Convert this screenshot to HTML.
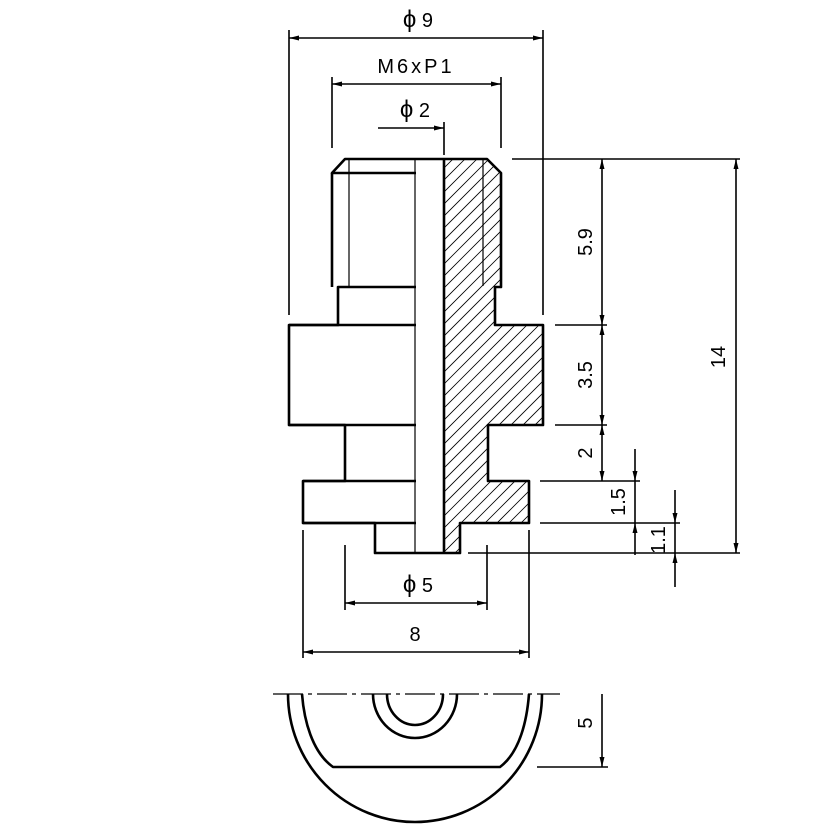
<!DOCTYPE html>
<html><head><style>html,body{margin:0;padding:0;background:#fff}svg{display:block}</style></head><body>
<svg width="835" height="835" viewBox="0 0 835 835" xmlns="http://www.w3.org/2000/svg" font-family="Liberation Sans, DejaVu Sans, sans-serif">
<defs>
<marker id="a" viewBox="0 0 10 6" refX="10" refY="3" markerWidth="10" markerHeight="6" markerUnits="userSpaceOnUse" orient="auto-start-reverse"><path d="M0,0.5 L10,3 L0,5.5z" fill="#000"/></marker>
<clipPath id="hc"><path d="M444,159 H487 L501,173 V287 H495 V325 H543 V425 H488 V481 H529 V523 H460 V553 H444z"/></clipPath>
</defs>
<g clip-path="url(#hc)" stroke="#000" stroke-width="0.8">
<g id="hl">
<path d="M400,200 L560,40 M400,212 L560,52 M400,224 L560,64 M400,236 L560,76 M400,248 L560,88 M400,260 L560,100 M400,272 L560,112 M400,284 L560,124 M400,296 L560,136 M400,308 L560,148 M400,320 L560,160 M400,332 L560,172"/>
</g>
<use href="#hl" y="144"/><use href="#hl" y="288"/><use href="#hl" y="432"/>
</g>
<g fill="none" stroke="#000" stroke-width="2.6" stroke-linejoin="round">
<path d="M416,173 H332 L345,159 H487 L501,173 V287 H495 V325 H543 V425 H488 V481 H529 V523 H460 V553 H375 V523 H303 V481 H345 V425 H289 V325 H338 V287 H416"/>
<path d="M444,159 V553"/>
<path d="M332,173 V287"/>
<path d="M289,425 H416 M303,523 H416 M303,481 H416 M289,325 H416"/>
<path d="M288,694 A127,128 0 0 0 542,694"/>
<path d="M302,694 C304,720 312,752 333,767 H500 C520,752 527,720 529,694"/>
<path d="M373,694 A42,44 0 0 0 457,694"/>
<path d="M387,694 A28,31 0 0 0 443,694"/>
</g>
<g fill="none" stroke="#000" stroke-width="1.2">
<path d="M415,159 V553 M349,160 V286 M483,160 V286"/>
<path d="M273,694 H560" stroke-dasharray="30,5,4,5"/>
</g>
<g fill="none" stroke="#000" stroke-width="1.6">
<path d="M289,30 V315 M543,30 V315 M332,77 V148 M501,77 V148 M444,122 V155"/>
<path d="M512,159 H740 M555,325 H607 M555,425 H607 M540,481 H640 M540,523 H680 M468,553 H740"/>
<path d="M345,545 V610 M487,545 V610 M303,530 V658 M529,530 V658"/>
<path d="M537,767 H608"/>
<path d="M289,38 H543" marker-start="url(#a)" marker-end="url(#a)"/>
<path d="M332,84 H501" marker-start="url(#a)" marker-end="url(#a)"/>
<path d="M378,128 H444" marker-end="url(#a)"/>
<path d="M345,603 H487" marker-start="url(#a)" marker-end="url(#a)"/>
<path d="M303,652 H529" marker-start="url(#a)" marker-end="url(#a)"/>
<path d="M602,159 V325" marker-start="url(#a)" marker-end="url(#a)"/>
<path d="M602,325 V425" marker-start="url(#a)" marker-end="url(#a)"/>
<path d="M602,425 V481" marker-start="url(#a)" marker-end="url(#a)"/>
<path d="M736,159 V553" marker-start="url(#a)" marker-end="url(#a)"/>
<path d="M635,449 V481" marker-end="url(#a)"/>
<path d="M635,555 V523" marker-end="url(#a)"/>
<path d="M635,481 V523"/>
<path d="M675,490 V523" marker-end="url(#a)"/>
<path d="M675,587 V553" marker-end="url(#a)"/>
<path d="M675,523 V553"/>
<path d="M602,694 V767" marker-end="url(#a)"/>
</g>
<g font-size="20" fill="#000" text-anchor="middle">
<text x="418" y="27"><tspan font-size="24">ϕ</tspan> 9</text>
<text x="416" y="73" letter-spacing="3">M6xP1</text>
<text x="415" y="117"><tspan font-size="24">ϕ</tspan> 2</text>
<text x="418" y="592"><tspan font-size="24">ϕ</tspan> 5</text>
<text x="415" y="641">8</text>
<text transform="translate(592,242) rotate(-90)">5.9</text>
<text transform="translate(592,375) rotate(-90)">3.5</text>
<text transform="translate(592,453) rotate(-90)">2</text>
<text transform="translate(725,357) rotate(-90)">14</text>
<text transform="translate(625,502) rotate(-90)">1.5</text>
<text transform="translate(665,540) rotate(-90)">1.1</text>
<text transform="translate(592,723) rotate(-90)">5</text>
</g>
</svg>
</body></html>
